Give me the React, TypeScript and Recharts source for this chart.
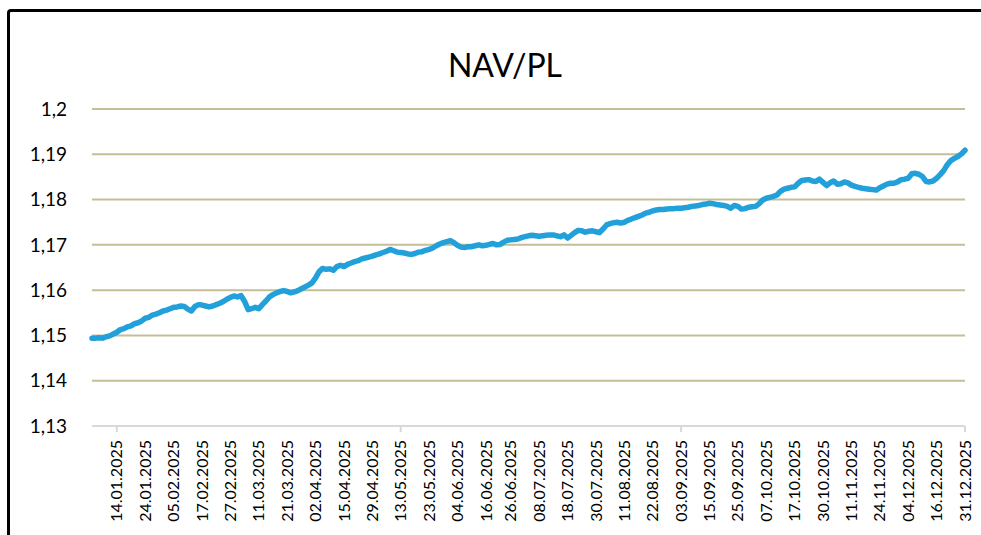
import { LineChart, Line, XAxis, YAxis, CartesianGrid } from 'recharts'

// labels shown on the category axis (every 8th valuation day)
const tickLabels = [
  '14.01.2025', '24.01.2025', '05.02.2025', '17.02.2025', '27.02.2025', '11.03.2025',
  '21.03.2025', '02.04.2025', '15.04.2025', '29.04.2025', '13.05.2025', '23.05.2025',
  '04.06.2025', '16.06.2025', '26.06.2025', '08.07.2025', '18.07.2025', '30.07.2025',
  '11.08.2025', '22.08.2025', '03.09.2025', '15.09.2025', '25.09.2025', '07.10.2025',
  '17.10.2025', '30.10.2025', '11.11.2025', '24.11.2025', '04.12.2025', '16.12.2025',
  '31.12.2025',
]

// labels that also get a small tick mark under the axis
const majorTicks = ['14.01.2025', '13.05.2025', '03.09.2025', '31.12.2025']

// weekdays with no valuation
const closedDays = [
  '2025-01-06', '2025-04-07', '2025-04-18', '2025-04-21', '2025-05-01', '2025-05-02',
  '2025-06-19', '2025-08-15', '2025-10-27', '2025-11-17', '2025-12-24', '2025-12-25',
  '2025-12-26',
]

// NAV per unit, one value per valuation day
const navValues = [
  1.1494, 1.1494, 1.1495, 1.1494, 1.1497, 1.1499, 1.1503, 1.1507, 1.1513, 1.1515,
  1.1519, 1.1521, 1.1526, 1.1528, 1.1532, 1.1538, 1.1540, 1.1545, 1.1547, 1.1550,
  1.1554, 1.1556, 1.1559, 1.1562, 1.1563, 1.1565, 1.1564, 1.1558, 1.1554, 1.1564,
  1.1568, 1.1567, 1.1565, 1.1563, 1.1565, 1.1568, 1.1571, 1.1575, 1.1580, 1.1584,
  1.1587, 1.1585, 1.1588, 1.1575, 1.1557, 1.1559, 1.1562, 1.1559, 1.1568, 1.1576,
  1.1585, 1.1590, 1.1594, 1.1597, 1.1599, 1.1597, 1.1594, 1.1596, 1.1599, 1.1603,
  1.1607, 1.1611, 1.1616, 1.1627, 1.1641, 1.1648, 1.1646, 1.1647, 1.1644, 1.1652,
  1.1655, 1.1652, 1.1657, 1.1660, 1.1663, 1.1665, 1.1669, 1.1671, 1.1673, 1.1675,
  1.1678, 1.1680, 1.1683, 1.1686, 1.1690, 1.1687, 1.1684, 1.1683, 1.1682, 1.1680,
  1.1679, 1.1681, 1.1684, 1.1685, 1.1688, 1.1690, 1.1693, 1.1698, 1.1702, 1.1705,
  1.1707, 1.1709, 1.1705, 1.1699, 1.1695, 1.1694, 1.1696, 1.1696, 1.1698, 1.1700,
  1.1698, 1.1699, 1.1701, 1.1703, 1.1700, 1.1701, 1.1706, 1.1710, 1.1711, 1.1712,
  1.1713, 1.1716, 1.1718, 1.1720, 1.1721, 1.1720, 1.1719, 1.1720, 1.1721, 1.1722,
  1.1722, 1.1720, 1.1718, 1.1722, 1.1715, 1.1721, 1.1727, 1.1732, 1.1731, 1.1728,
  1.1730, 1.1731, 1.1729, 1.1727, 1.1735, 1.1744, 1.1747, 1.1749, 1.1750, 1.1748,
  1.1750, 1.1754, 1.1757, 1.1760, 1.1763, 1.1766, 1.1770, 1.1772, 1.1775, 1.1777,
  1.1778, 1.1778, 1.1779, 1.1780, 1.1780, 1.1781, 1.1781, 1.1782, 1.1783, 1.1785,
  1.1786, 1.1787, 1.1789, 1.1790, 1.1792, 1.1791, 1.1789, 1.1788, 1.1787, 1.1785,
  1.1781, 1.1787, 1.1785, 1.1779, 1.1780, 1.1783, 1.1784, 1.1785, 1.1791, 1.1799,
  1.1803, 1.1805, 1.1807, 1.1810, 1.1818, 1.1823, 1.1825, 1.1827, 1.1828, 1.1836,
  1.1842, 1.1843, 1.1844, 1.1841, 1.1840, 1.1845, 1.1838, 1.1831, 1.1837, 1.1841,
  1.1834, 1.1835, 1.1839, 1.1837, 1.1832, 1.1829, 1.1827, 1.1825, 1.1824, 1.1823,
  1.1822, 1.1821, 1.1826, 1.1830, 1.1834, 1.1836, 1.1836, 1.1839, 1.1844, 1.1845,
  1.1847, 1.1857, 1.1858, 1.1856, 1.1851, 1.1840, 1.1839, 1.1841, 1.1847, 1.1855,
  1.1864, 1.1877, 1.1886, 1.1891, 1.1895, 1.1901, 1.1909, 1.1913,
]

const yTicks = [1.13, 1.14, 1.15, 1.16, 1.17, 1.18, 1.19, 1.2]

function valuationDays(): string[] {
  const out: string[] = []
  const d = new Date(Date.UTC(2025, 0, 2))
  const end = Date.UTC(2025, 11, 31)
  while (d.getTime() <= end) {
    const dow = d.getUTCDay()
    const iso = d.toISOString().slice(0, 10)
    if (dow !== 0 && dow !== 6 && !closedDays.includes(iso)) {
      const [y, m, dd] = iso.split('-')
      out.push(`${dd}.${m}.${y}`)
    }
    d.setUTCDate(d.getUTCDate() + 1)
  }
  return out
}

const chartData = valuationDays().map((date, i) => ({ date, nav: navValues[i] }))

function DateTick({ x, y, payload }: any) {
  const major = majorTicks.includes(payload.value)
  return (
    <g transform={`translate(${x},${y})`}>
      {major && <line x1={0} y1={0} x2={0} y2={6} stroke="#d9d9d9" strokeWidth={2} />}
      <text
        transform="rotate(-90)"
        x={-14}
        y={0}
        dy="0.35em"
        textAnchor="end"
        fontSize={16}
        fill="#000"
        fontFamily="Lato"
      >
        {payload.value}
      </text>
    </g>
  )
}

export default function App() {
  return (
    <div
      style={{
        position: 'fixed',
        left: 0,
        top: 0,
        width: 981,
        height: 535,
        overflow: 'hidden',
        background: '#fff',
        fontFamily: 'Lato',
      }}
    >
      {/* outer frame, cut off at the right and bottom */}
      <div
        style={{
          position: 'absolute',
          left: 7,
          top: 9,
          width: 1000,
          height: 560,
          border: '3px solid #000',
          borderRadius: 4,
          boxSizing: 'border-box',
        }}
      />
      <div
        style={{
          position: 'absolute',
          left: 0,
          top: 49,
          width: 1010,
          textAlign: 'center',
          fontSize: 32,
          lineHeight: '32px',
          color: '#000',
        }}
      >
        NAV/PL
      </div>
      <div style={{ position: 'absolute', left: 0, top: 0 }}>
        <LineChart
          width={981}
          height={535}
          data={chartData}
          margin={{ top: 109, right: 16, left: 0, bottom: 0 }}
        >
          <CartesianGrid vertical={false} stroke="#c4bd97" strokeWidth={2} />
          <XAxis
            dataKey="date"
            ticks={tickLabels}
            interval={0}
            tick={<DateTick />}
            tickLine={false}
            tickSize={0}
            tickMargin={0}
            axisLine={{ stroke: '#d9d9d9', strokeWidth: 2 }}
            height={109}
          />
          <YAxis
            domain={[1.13, 1.2]}
            ticks={yTicks}
            width={92}
            axisLine={false}
            tickLine={false}
            tickSize={0}
            tickMargin={25}
            tick={{ fontSize: 19, fill: '#000' }}
            tickFormatter={(v: number) => Number(v.toFixed(2)).toString().replace('.', ',')}
          />
          <Line
            type="linear"
            dataKey="nav"
            stroke="#21a0d9"
            strokeWidth={5.5}
            strokeLinejoin="round"
            strokeLinecap="round"
            dot={false}
            isAnimationActive={false}
          />
        </LineChart>
      </div>
    </div>
  )
}
